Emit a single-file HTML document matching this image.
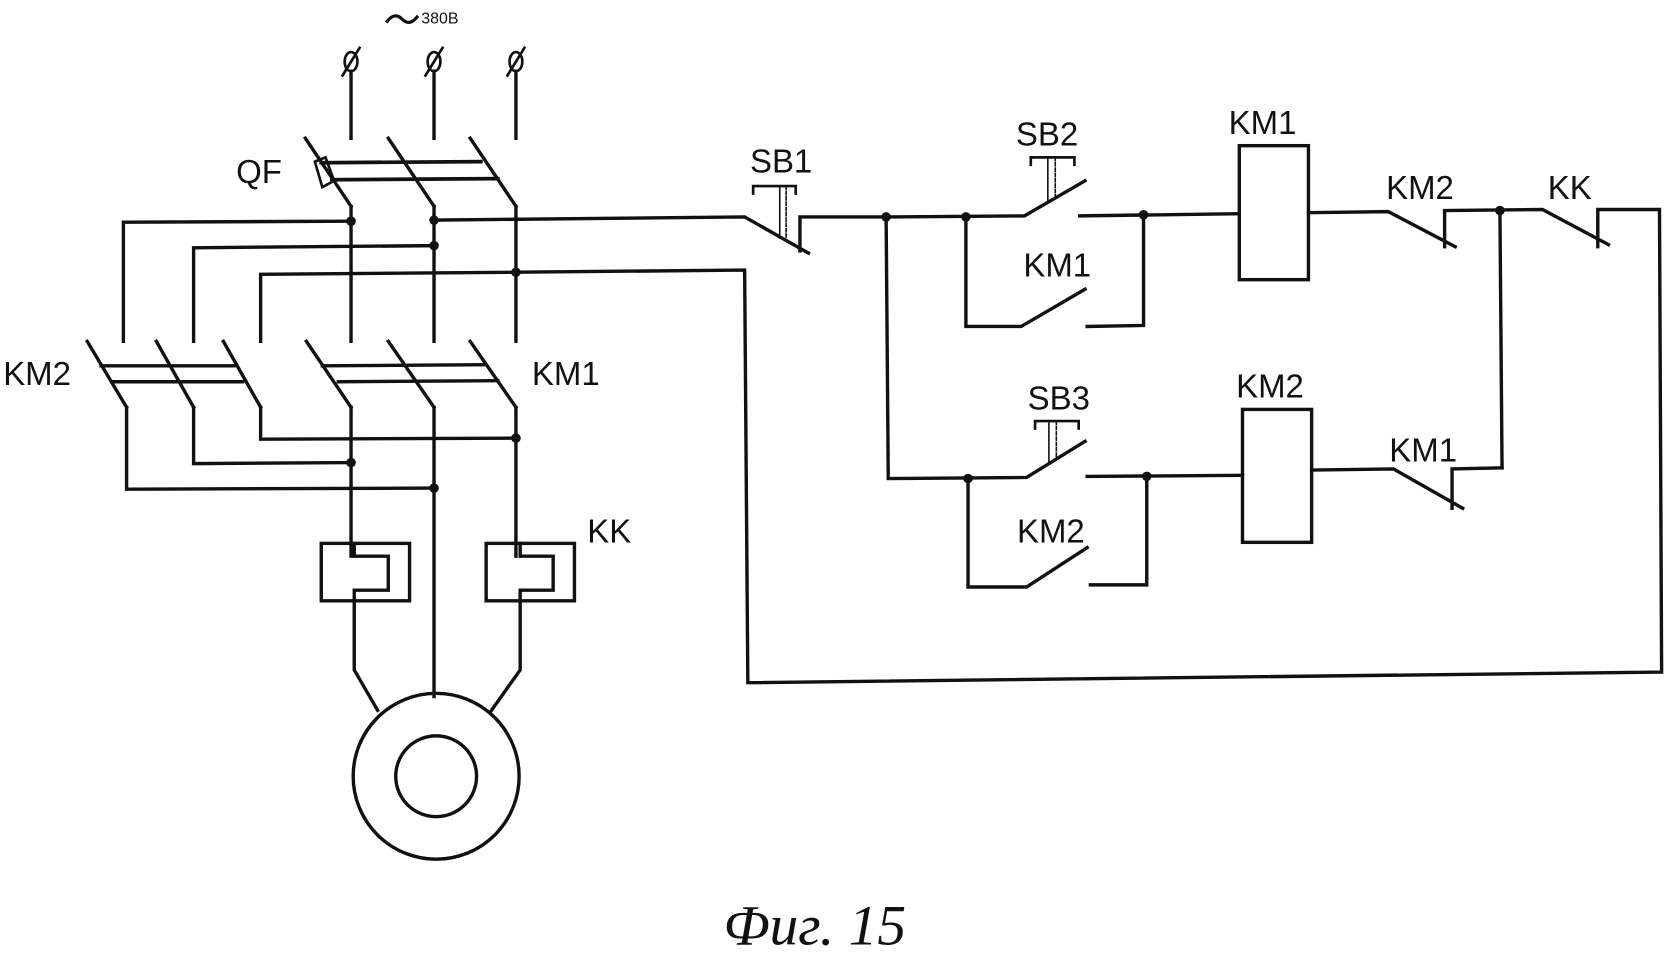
<!DOCTYPE html>
<html><head><meta charset="utf-8"><style>
html,body{margin:0;padding:0;background:#fff}
svg{display:block}
text{font-family:"Liberation Sans",sans-serif;font-size:31px;fill:#111}
</style></head><body>
<svg width="1668" height="973" viewBox="0 0 1568 915" preserveAspectRatio="none" xmlns="http://www.w3.org/2000/svg">
<g fill="none" stroke="#111" stroke-width="3.2" stroke-linecap="square">
<g stroke-width="2.5">
<ellipse cx="330" cy="58" rx="6" ry="9"/><line x1="322" y1="71" x2="338" y2="45"/>
<ellipse cx="408" cy="58" rx="6" ry="9"/><line x1="400" y1="71" x2="416" y2="45"/>
<ellipse cx="485" cy="58" rx="6" ry="9"/><line x1="477" y1="71" x2="493" y2="45"/>
</g>
<path d="M364,20 q7,-9 14,-2 q7,7 14,-2" stroke-width="3"/>
<line x1="330" y1="67" x2="330" y2="130"/><line x1="408" y1="67" x2="408" y2="130"/><line x1="485" y1="67" x2="485" y2="130"/>
<line x1="287" y1="130" x2="330" y2="194"/><line x1="365" y1="130" x2="408" y2="194"/><line x1="442" y1="130" x2="485" y2="194"/>
<line x1="302" y1="153" x2="452" y2="152" stroke-width="3.5"/><line x1="312" y1="169" x2="468" y2="168" stroke-width="3.5"/>
<polygon points="296,152 306,148 314,170 303,176" stroke-width="2.5"/>
<line x1="330" y1="194" x2="330" y2="321"/><line x1="408" y1="194" x2="408" y2="321"/><line x1="485" y1="194" x2="485" y2="321"/>
<polyline points="116,321 116,209 330,208"/>
<polyline points="408,207 700,204 760,238"/>
<polyline points="182,321 182,233 408,231"/>
<polyline points="245,321 245,258 485,256 700,254 703,642 1562,632 1560,197 1502,197 1502,232"/>
<line x1="82" y1="321" x2="119" y2="383"/><line x1="147" y1="321" x2="182" y2="383"/><line x1="210" y1="321" x2="245" y2="383"/>
<line x1="288" y1="321" x2="330" y2="383"/><line x1="365" y1="321" x2="408" y2="383"/><line x1="442" y1="321" x2="485" y2="383"/>
<line x1="95" y1="344" x2="220" y2="344"/><line x1="105" y1="359" x2="228" y2="359"/>
<line x1="303" y1="344" x2="455" y2="343"/><line x1="318" y1="359" x2="468" y2="358"/>
<polyline points="119,383 119,460 408,459"/>
<polyline points="182,383 182,436 330,435"/>
<polyline points="245,383 245,413 485,412"/>
<line x1="330" y1="383" x2="330" y2="523"/><line x1="408" y1="383" x2="408" y2="655"/><line x1="485" y1="383" x2="485" y2="523"/>
<rect x="302" y="511" width="83" height="54"/>
<polyline points="333,511 333,523 365,523 365,555 333,555 333,630 355,668"/>
<rect x="457" y="511" width="83" height="54"/>
<polyline points="489,511 489,523 520,523 520,555 489,555 489,630 462,668"/>
<circle cx="410" cy="730" r="78"/><circle cx="410" cy="730" r="38"/>
<polyline points="752,236 752,204 833,204"/>
<polyline points="708,182 708,175 748,175 748,182" stroke-width="2.5"/>
<line x1="733" y1="175" x2="733" y2="224" stroke-width="1.5"/><line x1="739" y1="175" x2="739" y2="224" stroke-width="1.5" stroke-dasharray="3 2"/>
<polyline points="833,204 963,203 1020,170"/>
<polyline points="1015,203 1165,201"/>
<polyline points="969,155 969,148 1010,148 1010,155" stroke-width="2.5"/>
<line x1="985" y1="148" x2="985" y2="190" stroke-width="1.5"/><line x1="992" y1="148" x2="992" y2="186" stroke-width="1.5" stroke-dasharray="3 2"/>
<polyline points="908,204 908,307 960,307 1020,272"/>
<polyline points="1022,307 1075,306 1075,203"/>
<rect x="1165" y="137" width="65" height="126"/>
<polyline points="1230,200 1305,199 1368,232"/>
<polyline points="1358,232 1358,198 1450,197 1512,230"/>
<line x1="1410" y1="198" x2="1412" y2="440"/>
<polyline points="833,204 835,450 965,449 1020,415"/>
<polyline points="1022,448 1168,447"/>
<polyline points="973,403 973,396 1014,396 1014,403" stroke-width="2.5"/>
<line x1="986" y1="396" x2="986" y2="436" stroke-width="1.5"/><line x1="993" y1="396" x2="993" y2="432" stroke-width="1.5" stroke-dasharray="3 2"/>
<polyline points="910,450 910,552 965,552 1022,515"/>
<polyline points="1025,550 1078,550 1078,448"/>
<rect x="1168" y="385" width="65" height="125"/>
<polyline points="1233,442 1310,441 1375,478"/>
<polyline points="1365,478 1365,441 1412,440"/>
</g>
<g fill="#111">
<circle cx="330" cy="208" r="4.5"/><circle cx="408" cy="207" r="4.5"/><circle cx="408" cy="231" r="4.5"/><circle cx="485" cy="256" r="4.5"/>
<circle cx="330" cy="435" r="4.5"/><circle cx="408" cy="459" r="4.5"/><circle cx="485" cy="412" r="4.5"/>
<circle cx="833" cy="204" r="4.5"/><circle cx="908" cy="204" r="4.5"/><circle cx="1075" cy="202" r="4.5"/><circle cx="1410" cy="198" r="4.5"/>
<circle cx="910" cy="450" r="4.5"/><circle cx="1078" cy="448" r="4.5"/>
</g>
<text x="396" y="22" style="font-size:15px">380B</text>
<text x="222" y="172">QF</text>
<text x="3" y="362">KM2</text>
<text x="500" y="362">KM1</text>
<text x="552" y="510">KK</text>
<text x="705" y="162">SB1</text>
<text x="955" y="137">SB2</text>
<text x="1155" y="126">KM1</text>
<text x="962" y="260">KM1</text>
<text x="1303" y="187">KM2</text>
<text x="1455" y="187">KK</text>
<text x="966" y="385">SB3</text>
<text x="1162" y="374">KM2</text>
<text x="1306" y="434">KM1</text>
<text x="956" y="510">KM2</text>
<text x="680" y="888" style="font-family:'Liberation Serif',serif;font-style:italic;font-size:54px">Фиг. 15</text>
</svg>
</body></html>
